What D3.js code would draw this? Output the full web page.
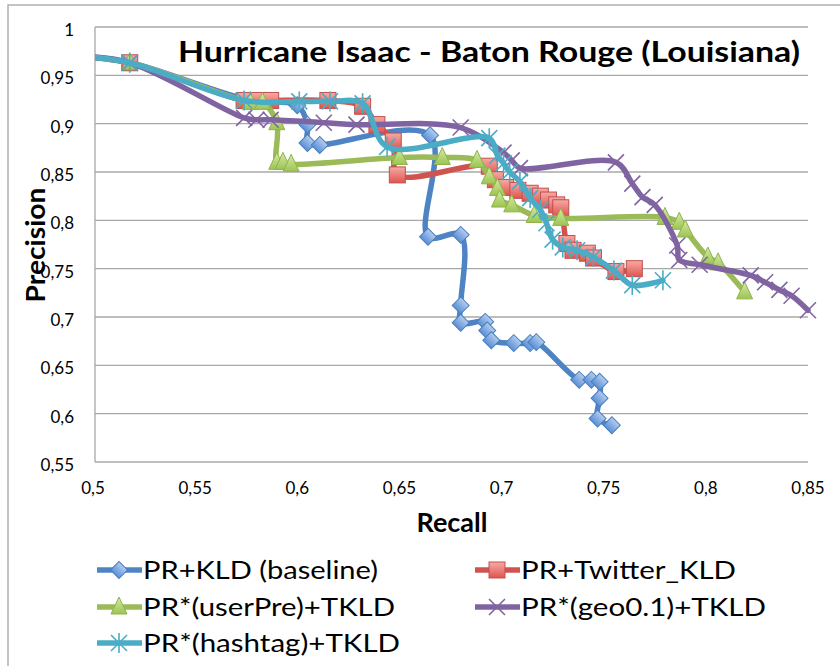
<!DOCTYPE html>
<meta charset="utf-8">
<style>
body { margin: 0; background: #fff; }
text { font-family: Lato, "Open Sans", sans-serif; fill: #000; }
</style>
<body>
<script src="https://d3js.org/d3.v7.min.js"></script>
<script>

// axis ticks
var xTicks = [0.5, 0.55, 0.6, 0.65, 0.7, 0.75, 0.8, 0.85];
var xTickLabels = ["0,5", "0,55", "0,6", "0,65", "0,7", "0,75", "0,8", "0,85"];
var yTicks = [0.55, 0.6, 0.65, 0.7, 0.75, 0.8, 0.85, 0.9, 0.95, 1];
var yTickLabels = ["0,55", "0,6", "0,65", "0,7", "0,75", "0,8", "0,85", "0,9", "0,95", "1"];

// series (recall, precision)
var baseRecall = [0.49, 0.517, 0.576, 0.599, 0.604, 0.604, 0.610, 0.664, 0.663, 0.679, 0.679, 0.679, 0.691, 0.692, 0.694, 0.705, 0.713, 0.716, 0.737, 0.743, 0.747, 0.747, 0.746, 0.753];
var basePrec   = [0.970, 0.963, 0.924, 0.919, 0.899, 0.880, 0.878, 0.888, 0.783, 0.785, 0.712, 0.694, 0.695, 0.686, 0.676, 0.673, 0.673, 0.674, 0.635, 0.635, 0.633, 0.616, 0.595, 0.588];

var twRecall = [0.49, 0.517, 0.573, 0.580, 0.586, 0.614, 0.631, 0.638, 0.646, 0.648, 0.693, 0.696, 0.701, 0.707, 0.713, 0.718, 0.722, 0.726, 0.728, 0.731, 0.734, 0.741, 0.744, 0.755, 0.764];
var twPrec   = [0.970, 0.963, 0.924, 0.924, 0.924, 0.924, 0.918, 0.899, 0.882, 0.847, 0.856, 0.842, 0.834, 0.831, 0.828, 0.825, 0.821, 0.816, 0.813, 0.776, 0.769, 0.766, 0.761, 0.747, 0.750];

var upRecall = [0.49, 0.517, 0.576, 0.582, 0.589, 0.589, 0.592, 0.596, 0.649, 0.670, 0.687, 0.693, 0.697, 0.698, 0.704, 0.715, 0.728, 0.779, 0.786, 0.789, 0.800, 0.805, 0.818];
var upPrec   = [0.970, 0.963, 0.922, 0.922, 0.901, 0.860, 0.860, 0.858, 0.865, 0.865, 0.862, 0.845, 0.833, 0.821, 0.816, 0.805, 0.802, 0.803, 0.798, 0.790, 0.762, 0.756, 0.726];

var geoRecall = [0.49, 0.517, 0.573, 0.579, 0.586, 0.612, 0.628, 0.679, 0.700, 0.704, 0.708, 0.755, 0.763, 0.768, 0.774, 0.785, 0.786, 0.796, 0.821, 0.828, 0.835, 0.841, 0.849];
var geoPrec   = [0.970, 0.963, 0.906, 0.904, 0.904, 0.901, 0.899, 0.896, 0.870, 0.862, 0.854, 0.860, 0.838, 0.824, 0.816, 0.774, 0.759, 0.754, 0.743, 0.736, 0.728, 0.722, 0.707];

var htRecall = [0.49, 0.517, 0.573, 0.600, 0.615, 0.631, 0.643, 0.693, 0.697, 0.700, 0.703, 0.708, 0.713, 0.718, 0.721, 0.724, 0.729, 0.736, 0.744, 0.754, 0.763, 0.778];
var htPrec   = [0.970, 0.963, 0.924, 0.923, 0.923, 0.921, 0.876, 0.885, 0.867, 0.859, 0.850, 0.840, 0.823, 0.811, 0.797, 0.780, 0.772, 0.769, 0.762, 0.748, 0.733, 0.738];

var seriesNames = ["PR+KLD (baseline)", "PR+Twitter_KLD", "PR*(userPre)+TKLD", "PR*(geo0.1)+TKLD", "PR*(hashtag)+TKLD"];

var series = [
  {name: seriesNames[0], color: "#4f84c4", marker: "diamond",  r: baseRecall, p: basePrec},
  {name: seriesNames[1], color: "#cf5450", marker: "square",   r: twRecall,   p: twPrec},
  {name: seriesNames[2], color: "#9bbb59", marker: "triangle", r: upRecall,   p: upPrec},
  {name: seriesNames[3], color: "#8064a2", marker: "x",        r: geoRecall,  p: geoPrec},
  {name: seriesNames[4], color: "#4bacc6", marker: "star",     r: htRecall,   p: htPrec}
];

var W = 840, H = 666;
var svg = d3.select("body").append("svg")
    .attr("width", W)
    .attr("height", H);

// scales
var x = d3.scaleLinear().domain([0.5, 0.85]).range([95, 810]);
var y = d3.scaleLinear().domain([0.55, 1]).range([462, 27]);

var defs = svg.append("defs");
defs.append("clipPath").attr("id", "plotclip")
  .append("rect")
    .attr("x", x(0.5)).attr("y", y(1) - 20)
    .attr("width", x(0.85) - x(0.5) + 20).attr("height", y(0.55) - y(1) + 40);

function grad(id, c1, c2) {
  var g = defs.append("linearGradient").attr("id", id)
      .attr("x1", 0).attr("y1", 0).attr("x2", 0).attr("y2", 1);
  g.append("stop").attr("offset", "0%").attr("stop-color", c1);
  g.append("stop").attr("offset", "100%").attr("stop-color", c2);
}
grad("gBlue", "#b3cdf0", "#5a8fd6");
grad("gRed", "#f6aaa5", "#e0554f");
grad("gGreen", "#d6eaa6", "#9cc552");

// outer frame
svg.append("rect")
    .attr("x", 8).attr("y", 5)
    .attr("width", W - 6).attr("height", H + 10)
    .attr("fill", "none")
    .attr("stroke", "#b0b0b0")
    .attr("stroke-width", 1.5);

// gridlines
svg.append("g")
  .selectAll("line")
  .data(yTicks)
  .enter().append("line")
    .attr("x1", x(0.5)).attr("x2", x(0.85) - 2)
    .attr("y1", function(d) { return y(d); })
    .attr("y2", function(d) { return y(d); })
    .attr("stroke", "#a8a8a8")
    .attr("stroke-width", 1.3);

// left axis line
svg.append("line")
    .attr("x1", x(0.5)).attr("x2", x(0.5))
    .attr("y1", y(1)).attr("y2", y(0.55))
    .attr("stroke", "#a8a8a8")
    .attr("stroke-width", 1.3);

// tick labels
svg.append("g")
  .selectAll("text")
  .data(yTicks)
  .enter().append("text")
    .attr("x", 74)
    .attr("y", function(d) { return y(d) + 9; })
    .attr("text-anchor", "end")
    .style("font-size", "17px")
    .text(function(d, i) { return yTickLabels[i]; });

svg.append("g")
  .selectAll("text")
  .data(xTicks)
  .enter().append("text")
    .attr("x", function(d) { return x(d) - 2; })
    .attr("y", 494)
    .attr("text-anchor", "middle")
    .style("font-size", "17px")
    .text(function(d, i) { return xTickLabels[i]; });

// titles
svg.append("text")
    .attr("x", 489).attr("y", 62)
    .attr("text-anchor", "middle")
    .attr("textLength", 622).attr("lengthAdjust", "spacingAndGlyphs")
    .style("font-size", "29px").style("font-weight", "bold")
    .text("Hurricane Isaac - Baton Rouge (Louisiana)");

svg.append("text")
    .attr("x", 452).attr("y", 532)
    .attr("text-anchor", "middle")
    .style("font-size", "27px").style("font-weight", "bold")
    .text("Recall");

svg.append("text")
    .attr("transform", "translate(45,245) rotate(-90)")
    .attr("text-anchor", "middle")
    .attr("textLength", 115).attr("lengthAdjust", "spacingAndGlyphs")
    .style("font-size", "26px").style("font-weight", "bold")
    .text("Precision");

// marker drawing
function drawMarker(g, type, color, cx, cy) {
  if (type === "diamond") {
    g.append("rect")
      .attr("x", -6).attr("y", -6).attr("width", 12).attr("height", 12)
      .attr("transform", "translate(" + cx + "," + cy + ") rotate(45)")
      .attr("fill", "url(#gBlue)").attr("stroke", "#4a7ebb").attr("stroke-width", 1);
  } else if (type === "square") {
    g.append("rect")
      .attr("x", cx - 8).attr("y", cy - 8).attr("width", 16).attr("height", 16)
      .attr("fill", "url(#gRed)").attr("stroke", "#c0504d").attr("stroke-width", 1);
  } else if (type === "triangle") {
    g.append("path")
      .attr("d", "M" + cx + "," + (cy - 10) + "L" + (cx + 8) + "," + (cy + 7) + "L" + (cx - 8) + "," + (cy + 7) + "Z")
      .attr("fill", "url(#gGreen)").attr("stroke", "#8fb34a").attr("stroke-width", 1);
  } else if (type === "x") {
    g.append("path")
      .attr("d", "M" + (cx - 8) + "," + (cy - 8) + "L" + (cx + 8) + "," + (cy + 8) +
                 "M" + (cx + 8) + "," + (cy - 8) + "L" + (cx - 8) + "," + (cy + 8))
      .attr("stroke", color).attr("stroke-width", 1.6).attr("fill", "none");
  } else if (type === "star") {
    g.append("path")
      .attr("d", "M" + (cx - 8) + "," + (cy - 8) + "L" + (cx + 8) + "," + (cy + 8) +
                 "M" + (cx + 8) + "," + (cy - 8) + "L" + (cx - 8) + "," + (cy + 8) +
                 "M" + cx + "," + (cy - 10) + "L" + cx + "," + (cy + 10))
      .attr("stroke", color).attr("stroke-width", 1.6).attr("fill", "none");
  }
}

var line = d3.line()
    .x(function(d) { return x(d[0]); })
    .y(function(d) { return y(d[1]); })
    .curve(d3.curveCatmullRom.alpha(0.5));

var plot = svg.append("g").attr("clip-path", "url(#plotclip)");

series.forEach(function(s) {
  var pts = s.r.map(function(r, i) { return [r, s.p[i]]; });
  var g = plot.append("g");
  g.append("path")
      .datum(pts)
      .attr("d", line)
      .attr("fill", "none")
      .attr("stroke", s.color)
      .attr("stroke-width", 5.5)
      .attr("stroke-linejoin", "round")
      .attr("stroke-linecap", "round");
  pts.forEach(function(d) {
    if (d[0] >= 0.5) drawMarker(g, s.marker, s.color, x(d[0]), y(d[1]));
  });
});

// legend
var legPos = [[97, 570], [475, 570], [97, 607], [475, 607], [97, 643]];
var legLen = [235, 215, 252, 245, 257];
series.forEach(function(s, i) {
  var lx = legPos[i][0], ly = legPos[i][1];
  var g = svg.append("g");
  g.append("line")
      .attr("x1", lx).attr("x2", lx + 45)
      .attr("y1", ly).attr("y2", ly)
      .attr("stroke", s.color).attr("stroke-width", 5.5);
  drawMarker(g, s.marker, s.color, lx + 22, ly);
  g.append("text")
      .attr("x", lx + 46).attr("y", ly + 9)
      .attr("textLength", legLen[i]).attr("lengthAdjust", "spacingAndGlyphs")
      .style("font-size", "25px")
      .text(s.name);
});

</script>
</body>
